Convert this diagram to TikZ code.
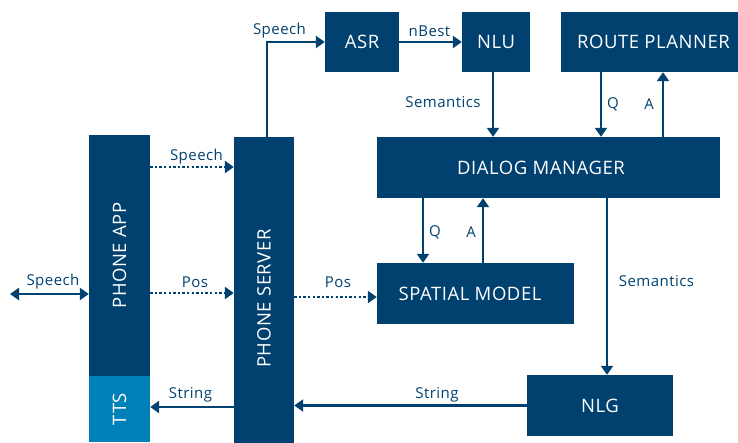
\documentclass[tikz,border=0pt]{standalone}
\usepackage{fontspec}
\usepackage{graphicx}
\setmainfont{Open Sans}[LetterSpace=3]
\usetikzlibrary{arrows.meta}
\definecolor{navy}{HTML}{00416F}
\definecolor{tealblue}{HTML}{0080B8}

\begin{document}
\begin{tikzpicture}[x=1pt,y=-1pt,
  box/.style={fill=navy, text=white, inner sep=0pt, font=\fontsize{18.5}{20}\selectfont},
  lbl/.style={text=navy, inner sep=0pt, font=\fontsize{15}{16}\selectfont},
  arr/.style={draw=navy, line width=2.7pt, -{Triangle[width=12pt,length=9pt]}},
  dotarr/.style={arr, dash pattern=on 2.4pt off 2.2pt},
]
\clip (0,0) rectangle (738,442);

% modules
\node[box, minimum width=61pt, minimum height=241pt] (pa) at (119.5,255.5) {\rotatebox{90}{PHONE APP}};
\node[box, fill=tealblue, minimum width=61pt, minimum height=66pt] (tts) at (119.5,409) {\rotatebox{90}{TTS}};
\node[box, minimum width=60pt, minimum height=323pt] (ps) at (264,298.5) {\rotatebox{90}{PHONE SERVER}};
\node[box, minimum width=74pt, minimum height=60pt] (asr) at (362,42) {ASR};
\node[box, minimum width=68pt, minimum height=60pt] (nlu) at (496,42) {NLU};
\node[box, minimum width=185pt, minimum height=60pt] (rp) at (653.5,42) {ROUTE PLANNER};
\node[box, minimum width=343pt, minimum height=61pt] (dm) at (548.5,167.5) {DIALOG MANAGER\hspace*{15pt}};
\node[box, minimum width=197pt, minimum height=61pt] (sm) at (475.5,293.5) {SPATIAL MODEL\hspace*{11pt}};
\node[box, minimum width=146pt, minimum height=61pt] (nlg) at (600,405.5) {NLG};

% solid connectors
\draw[arr] ([xshift=3pt]ps.north) |- (asr.west);
\draw[arr] (asr.east) -- (nlu.west);
\draw[arr] ([xshift=-3pt]nlu.south) -- ([xshift=-3pt]nlu.south |- dm.north);
\draw[arr] ([xshift=-52.5pt]rp.south) -- ([xshift=-52.5pt]rp.south |- dm.north);
\draw[arr] ([xshift=9.5pt]rp.south |- dm.north) -- ([xshift=9.5pt]rp.south);
\draw[arr] ([xshift=-52.5pt]sm.north |- dm.south) -- ([xshift=-52.5pt]sm.north);
\draw[arr] ([xshift=7.5pt]sm.north) -- ([xshift=7.5pt]sm.north |- dm.south);
\draw[arr] ([xshift=7pt]nlg.north |- dm.south) -- ([xshift=7pt]nlg.north);
\draw[arr] (nlg.west) -- (ps.east |- nlg.west);
\draw[arr] (ps.west |- 0,407) -- (tts.east |- 0,407);

% dotted connectors
\draw[dotarr] (pa.east |- 0,167) -- (ps.west |- 0,167);
\draw[dotarr] (pa.east |- 0,293) -- (ps.west |- 0,293);
\draw[dotarr] (ps.east |- 0,297) -- (sm.west |- 0,297);

% external speech link
\coordinate (ext) at (10,294);
\draw[arr, {Triangle[width=12pt,length=9pt]}-{Triangle[width=12pt,length=9pt]}] (ext) -- (pa.west |- ext);

% connector labels
\node[lbl] (l1) at (279.5,31) {Speech};
\node[lbl] (l2) at (429.5,31) {nBest};
\node[lbl] (l3) at (443,102) {Semantics};
\node[lbl] (l4) at (613,104) {Q};
\node[lbl] (l5) at (649,104) {A};
\node[lbl] (l6) at (435,232) {Q};
\node[lbl] (l7) at (471,232) {A};
\node[lbl] (l8) at (656.5,281) {Semantics};
\node[lbl] (l9) at (437,395) {String};
\node[lbl] (l10) at (190.5,395) {String};
\node[lbl] (l11) at (196.5,157) {Speech};
\node[lbl] (l12) at (195,282) {Pos};
\node[lbl] (l13) at (338,282) {Pos};
\node[lbl] (l14) at (53,282) {Speech};
\end{tikzpicture}
\end{document}
